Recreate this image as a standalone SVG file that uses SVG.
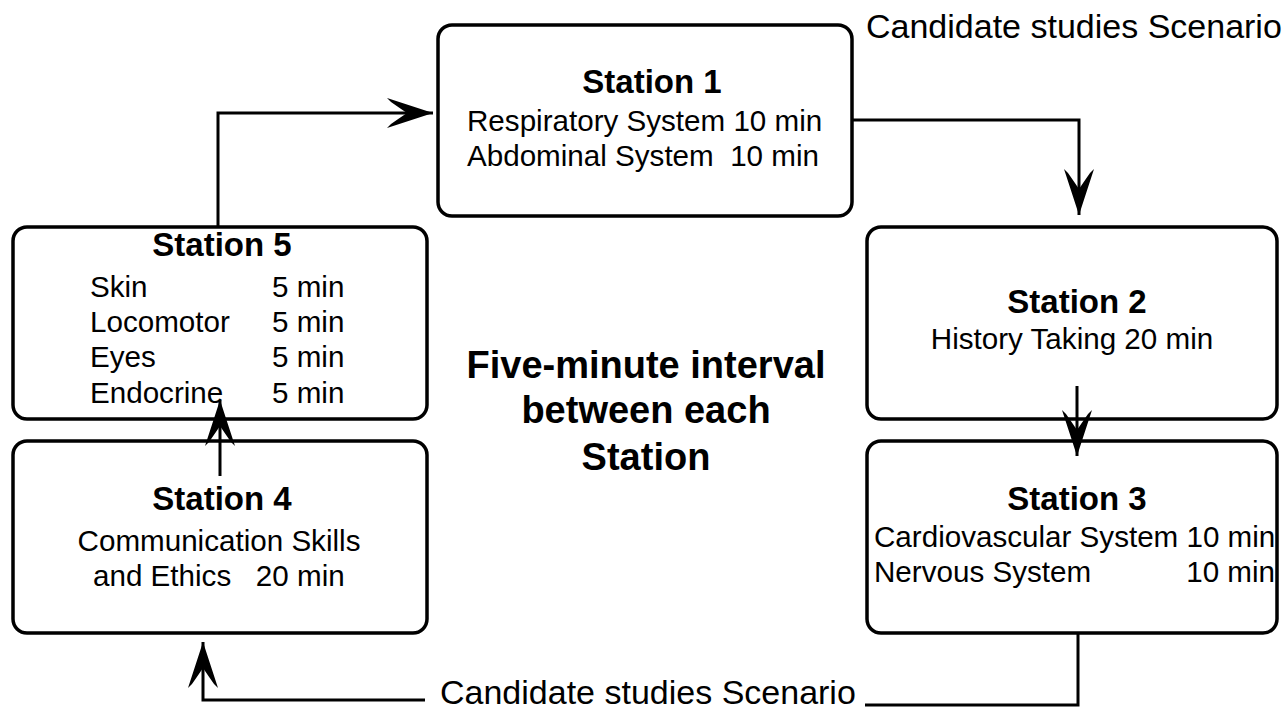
<svg xmlns="http://www.w3.org/2000/svg" width="1283" height="709" viewBox="0 0 1283 709">
<style>
.box{fill:#fff;stroke:#000;stroke-width:3.5}
.ln{fill:none;stroke:#000;stroke-width:3}
text{font-family:"Liberation Sans",Arial,sans-serif;fill:#000}
.t{font-size:33px;font-weight:bold;text-anchor:middle}
.b{font-size:29.6px}
.c{text-anchor:middle}
.lab{font-size:34px}
.mid{font-size:38px;font-weight:bold;text-anchor:middle}
</style>
<defs>
<marker id="arr" markerUnits="userSpaceOnUse" markerWidth="50" markerHeight="34" refX="46" refY="17" orient="auto" viewBox="0 0 50 34">
<path d="M46,17 L0,2 L4,6 Q14,13 20,17 Q14,21 4,28 L0,32 Z" fill="#000"/>
</marker>
</defs>
<g id="station1">
<rect class="box" x="438" y="25" width="414" height="191" rx="14"/>
<text class="t" x="652" y="93">Station 1</text>
<text class="b" x="467" y="131">Respiratory System 10 min</text>
<text class="b" x="467" y="166" xml:space="preserve">Abdominal System  10 min</text>
</g>
<g id="station2">
<rect class="box" x="867" y="227" width="410" height="192" rx="14"/>
<text class="t" x="1077" y="313">Station 2</text>
<text class="b c" x="1072" y="349">History Taking 20 min</text>
</g>
<g id="station3">
<rect class="box" x="867" y="441" width="410" height="192" rx="14"/>
<text class="t" x="1077" y="510">Station 3</text>
<text class="b" x="874" y="547">Cardiovascular System 10 min</text>
<text class="b" x="874" y="582">Nervous System</text>
<text class="b" x="1275" y="582" text-anchor="end">10 min</text>
</g>
<g id="station4">
<rect class="box" x="13" y="441" width="414" height="192" rx="14"/>
<text class="t" x="222" y="510">Station 4</text>
<text class="b c" x="219" y="551">Communication Skills</text>
<text class="b" x="93" y="586" xml:space="preserve">and Ethics   20 min</text>
</g>
<g id="station5">
<rect class="box" x="13" y="227" width="414" height="192" rx="14"/>
<text class="t" x="222" y="256">Station 5</text>
<text class="b" x="90" y="297">Skin</text>
<text class="b" x="272" y="297">5 min</text>
<text class="b" x="90" y="332">Locomotor</text>
<text class="b" x="272" y="332">5 min</text>
<text class="b" x="90" y="367">Eyes</text>
<text class="b" x="272" y="367">5 min</text>
<text class="b" x="90" y="403">Endocrine</text>
<text class="b" x="272" y="403">5 min</text>
</g>
<g id="center-note">
<text class="mid" x="646" y="378">Five-minute interval</text>
<text class="mid" x="646" y="423">between each</text>
<text class="mid" x="646" y="470">Station</text>
</g>
<g id="labels">
<text class="lab" x="866" y="38">Candidate studies Scenario</text>
<text class="lab" x="440" y="704">Candidate studies Scenario</text>
</g>
<g id="connectors">
<path class="ln" d="M218,227 V113 H433" marker-end="url(#arr)"/>
<path class="ln" d="M852,120 H1079 V215" marker-end="url(#arr)"/>
<path class="ln" d="M1077,386 V456" marker-end="url(#arr)"/>
<path class="ln" d="M220,476 V400" marker-end="url(#arr)"/>
<path class="ln" d="M1078,633 V705 H865"/>
<path class="ln" d="M425,700 H203 V642" marker-end="url(#arr)"/>
</g>
</svg>
